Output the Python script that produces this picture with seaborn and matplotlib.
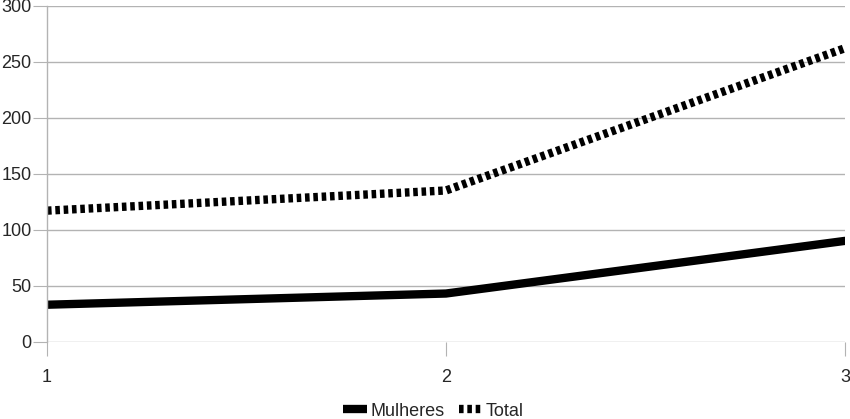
import matplotlib
matplotlib.use("Agg")
import matplotlib.pyplot as plt
import seaborn as sns
import pandas as pd
from matplotlib.lines import Line2D

# data
x_vals = [1, 2, 3]
mulheres = [33, 43, 90]
total = [117, 135, 262]
series_names = ["Mulheres", "Total"]

df = pd.DataFrame({
    "x": x_vals * 2,
    "valor": mulheres + total,
    "serie": [series_names[0]] * 3 + [series_names[1]] * 3,
})

sns.set_style("white")
plt.rcParams['font.family'] = ['Liberation Sans', 'DejaVu Sans']

fig = plt.figure(figsize=(8.5, 4.19), dpi=100)
ax = fig.add_axes([0.0553, 0.1845, 0.9387, 0.8020])

sns.lineplot(data=df, x="x", y="valor", hue="serie", style="serie",
             palette={"Mulheres": "black", "Total": "black"},
             dashes={"Mulheres": "", "Total": (0.55, 0.45)},
             linewidth=6, ax=ax, legend=False)

ax.set_xlim(1, 3)
ax.set_ylim(0, 300)
ax.set_xticks(x_vals)
ax.set_yticks(range(0, 301, 50))
ax.set_xlabel("")
ax.set_ylabel("")
ax.yaxis.grid(True, color="#b3b3b3", linewidth=1)
ax.set_axisbelow(True)
for s in ["top", "right", "bottom"]:
    ax.spines[s].set_visible(False)
ax.spines["left"].set_color("#b3b3b3")
ax.spines["left"].set_linewidth(1)
ax.tick_params(axis="y", length=10, color="#b3b3b3", labelsize=13, pad=1, left=True)
ax.tick_params(axis="x", length=10, color="#b3b3b3", labelsize=13, pad=10, bottom=True)

handles = [
    Line2D([], [], color="black", linewidth=6, solid_capstyle="butt"),
    Line2D([], [], color="black", linewidth=6, dashes=(0.55, 0.45)),
]
fig.legend(handles, series_names, loc="lower center", bbox_to_anchor=(0.51, -0.04),
           ncol=2, frameon=False, fontsize=13, handlelength=1.3,
           handletextpad=0.2, columnspacing=0.8)

fig.savefig("out.png", dpi=100)
